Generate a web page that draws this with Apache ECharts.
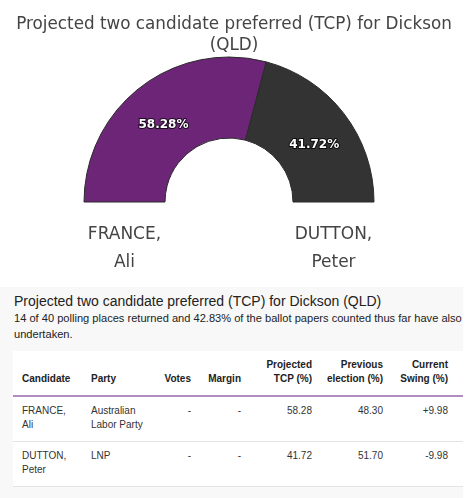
<!DOCTYPE html>
<html>
<head>
<meta charset="utf-8">
<script src="https://cdn.jsdelivr.net/npm/echarts@6/dist/echarts.min.js"></script>
<style>
  body { margin: 0; background: #fff; width: 468px; height: 498px; overflow: hidden; position: relative; }
  #chart { position: absolute; left: 0; top: 0; width: 468px; height: 286px; }
  .panel { position: absolute; left: 0; top: 287px; width: 463px; height: 211px; background: #f8f8f8; overflow: hidden; font-family: 'Liberation Sans', Arial, sans-serif; color: #222; }
  .panel h3 { margin: 0; position: absolute; left: 14px; top: 5px; font-size: 14px; font-weight: normal; line-height: 18px; white-space: nowrap; }
  .panel .sub { position: absolute; left: 14px; top: 23px; width: 600px; font-size: 11.1px; line-height: 16px; }
  .panel .sub div { white-space: nowrap; }
  table { position: absolute; left: 13px; top: 64px; width: 450px; table-layout: fixed; border-collapse: collapse; background: #fff; font-size: 10px; line-height: 14px; }
  th { font-weight: bold; color: #222; vertical-align: bottom; padding: 7px 8px 9px 9px; border-bottom: 2px solid #b28cc0; }
  td { color: #333; vertical-align: top; padding: 7px 8px 9px 9px; border-bottom: 1px solid #e4e4e4; }
  .l { text-align: left; }
  .r { text-align: right; padding-left: 4px; }
  .last { padding-right: 15px; }
</style>
</head>
<body>
<div id="chart"></div>
<div class="panel">
  <h3 id="heading"></h3>
  <div class="sub">
    <div>14 of 40 polling places returned and 42.83% of the ballot papers counted thus far have also</div>
    <div>undertaken.</div>
  </div>
  <table id="tcp">
    <colgroup>
      <col style="width:69px"><col style="width:73px"><col style="width:44px"><col style="width:50px">
      <col style="width:71px"><col style="width:71px"><col style="width:72px">
    </colgroup>
    <thead></thead>
    <tbody></tbody>
  </table>
</div>
<script>
var titleText = 'Projected two candidate preferred (TCP) for Dickson (QLD)'
var candidates = ['FRANCE, Ali', 'DUTTON, Peter']
var parties = ['Australian Labor Party', 'LNP']
var votes = ['-', '-']
var margins = ['-', '-']
var tcp = [58.28, 41.72]
var previous = [48.30, 51.70]
var swing = [9.98, -9.98]
var colors = ['#6c2577', '#333333']
var headers = ['Candidate', 'Party', 'Votes', 'Margin', 'Projected TCP (%)', 'Previous election (%)', 'Current Swing (%)']

var chart = echarts.init(document.getElementById('chart'))
var cx = 229
var cy = 202
var r0 = 64
var r1 = 145

chart.setOption({
  animation: false,
  title: {
    text: 'Projected two candidate preferred (TCP) for Dickson\n(QLD)',
    left: 'center',
    top: 9,
    textStyle: {
      fontFamily: 'DejaVu Sans',
      fontSize: 16.8,
      fontWeight: 'normal',
      color: '#444',
      lineHeight: 21
    }
  },
  color: colors,
  series: [{
    type: 'pie',
    center: [cx, cy],
    radius: [r0, r1],
    startAngle: 180,
    endAngle: 0,
    clockwise: true,
    silent: true,
    itemStyle: {
      borderColor: '#2a2a2a',
      borderWidth: 1
    },
    label: {
      show: true,
      position: 'inside',
      // blank first line pushes the value a little below the ring's middle
      formatter: function (p) { return ' \n' + p.value.toFixed(2) + '%' },
      fontFamily: 'DejaVu Sans',
      fontSize: 12,
      lineHeight: 17,
      fontWeight: 'bold',
      color: '#fff',
      textBorderColor: 'rgba(0,0,0,0.75)',
      textBorderWidth: 2
    },
    labelLine: { show: false },
    data: candidates.map(function (name, i) {
      return { name: name, value: tcp[i] }
    })
  }],
  // candidate names under each arm of the half ring
  graphic: candidates.map(function (name, i) {
    var mid = (r0 + r1) / 2
    return {
      type: 'text',
      x: i === 0 ? cx - mid : cx + mid,
      y: 249,
      style: {
        text: name.replace(' ', '\n'),
        font: '17px "DejaVu Sans"',
        fill: '#444',
        align: 'center',
        verticalAlign: 'middle',
        lineHeight: 28
      }
    }
  })
})

// table under the chart
document.getElementById('heading').textContent = titleText
var head = '<tr>' + headers.map(function (h, i) {
  var cls = i < 2 ? 'l' : 'r'
  if (i === headers.length - 1) cls += ' last'
  return '<th class="' + cls + '">' + h + '</th>'
}).join('') + '</tr>'
document.querySelector('#tcp thead').innerHTML = head

var rows = candidates.map(function (name, i) {
  var s = swing[i] > 0 ? '+' + swing[i].toFixed(2) : swing[i].toFixed(2)
  var cells = [name, parties[i], votes[i], margins[i], tcp[i].toFixed(2), previous[i].toFixed(2), s]
  return '<tr>' + cells.map(function (c, j) {
    var cls = j < 2 ? 'l' : 'r'
    if (j === cells.length - 1) cls += ' last'
    return '<td class="' + cls + '">' + c + '</td>'
  }).join('') + '</tr>'
})
document.querySelector('#tcp tbody').innerHTML = rows.join('')
</script>
</body>
</html>
